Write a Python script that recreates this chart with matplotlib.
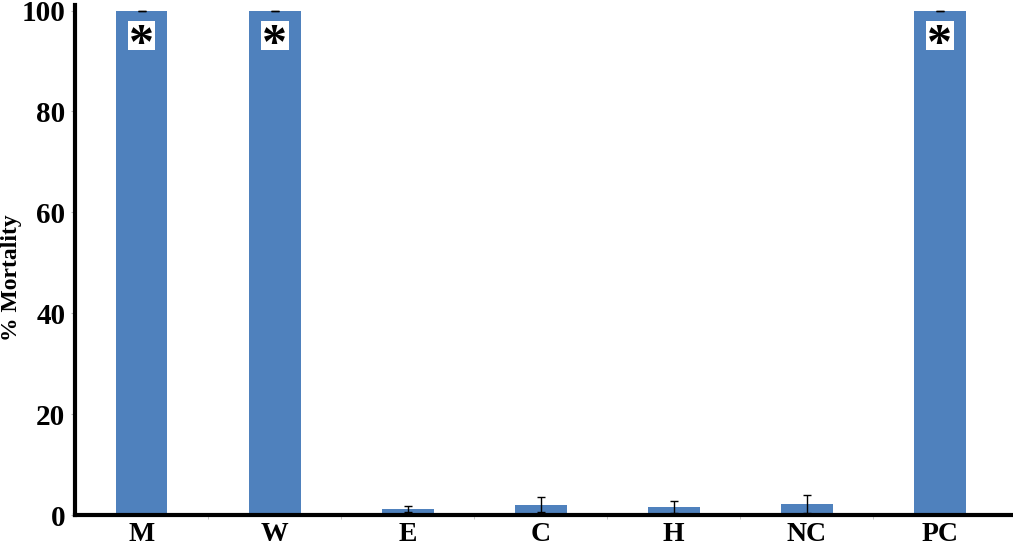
import numpy as np
import matplotlib
matplotlib.use('Agg')
import matplotlib.pyplot as plt
from matplotlib.patches import Rectangle

# data
groups = ['M', 'W', 'E', 'C', 'H', 'NC', 'PC']
mortality = [100, 100, 1.1, 2.0, 1.5, 2.2, 100]
err = [0.0, 0.0, 0.6, 1.5, 1.2, 1.8, 0.0]
signif = [True, True, False, False, False, False, True]

plt.rcParams['font.family'] = ['Liberation Serif', 'DejaVu Serif']
plt.rcParams['font.weight'] = 'bold'

fig = plt.figure(figsize=(10.13, 5.48), dpi=100)
ax = fig.add_axes([75/1013, 33/548, 938/1013, 506/548])

x = np.arange(len(groups))
ax.bar(x, mortality, width=0.39, color='#4f81bd', zorder=2)
ax.errorbar(x, mortality, yerr=err, fmt='none', ecolor='black',
            elinewidth=1, capsize=3, capthick=1, zorder=3)

# white boxes with an asterisk on the significant bars
for xi, yi, s in zip(x, mortality, signif):
    if s:
        ax.add_patch(Rectangle((xi - 0.105, yi - 7.9), 0.21, 5.9,
                               fc='white', ec='none', zorder=4))
        ax.text(xi, yi - 7.0, '*', ha='center', va='center', fontsize=36,
                fontweight='bold', color='black', zorder=5)

ax.set_xlim(-0.5, 6.55)
ax.set_ylim(0, 100.3)
ax.set_yticks([0, 20, 40, 60, 80, 100])
ax.set_xticks(x)
ax.set_xticklabels(groups)
ax.set_xticks(np.arange(0.5, 6, 1), minor=True)
ax.tick_params(axis='x', which='major', length=0, labelsize=20, pad=5)
ax.tick_params(axis='x', which='minor', length=3, color='#bbbbbb')
ax.tick_params(axis='y', length=3, color='#bbbbbb', labelsize=21, pad=4)
for lab in ax.get_xticklabels() + ax.get_yticklabels():
    lab.set_fontweight('bold')

ax.set_ylabel('% Mortality', fontsize=17, fontweight='bold')
ax.yaxis.set_label_coords(-0.0565, 0.47)

ax.spines['top'].set_visible(False)
ax.spines['right'].set_visible(False)
ax.spines['left'].set_linewidth(3)
ax.spines['bottom'].set_linewidth(3)
ax.spines['left'].set_bounds(0, 101)

fig.savefig('out.png', dpi=100)
